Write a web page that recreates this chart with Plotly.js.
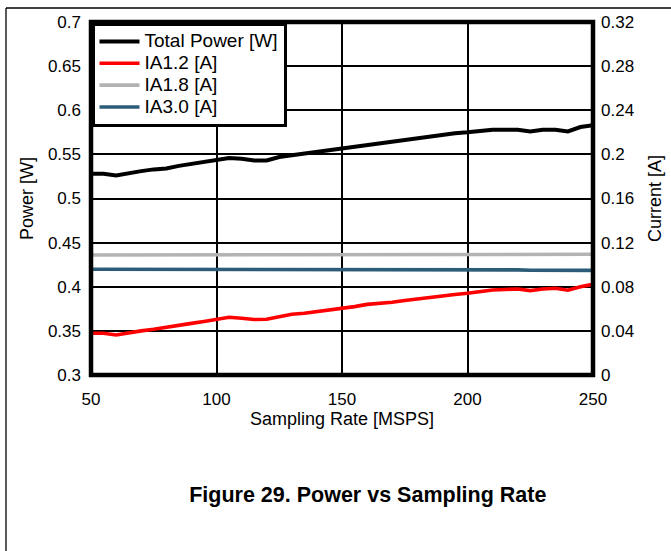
<!DOCTYPE html>
<html>
<head>
<meta charset="utf-8">
<script src="https://cdn.plot.ly/plotly-3.0.1.min.js"></script>
<style>html,body{margin:0;padding:0;background:#fff;}#chart{width:671px;height:551px;}</style>
</head>
<body>
<div id="chart"></div>
<script>
const samplingRate = [50,55,60,65,70,75,80,85,90,95,100,105,110,115,120,125,130,135,140,145,150,155,160,165,170,175,180,185,190,195,200,205,210,215,220,225,230,235,240,245,250];
const totalPower = [0.528,0.528,0.526,0.529,0.531,0.533,0.534,0.537,0.539,0.541,0.543,0.546,0.545,0.543,0.543,0.547,0.549,0.551,0.553,0.555,0.557,0.559,0.561,0.563,0.565,0.567,0.568,0.570,0.572,0.574,0.575,0.577,0.578,0.578,0.578,0.576,0.578,0.578,0.576,0.581,0.583];
const ia12 = [0.0378,0.0378,0.0363,0.0385,0.0400,0.0415,0.0430,0.0450,0.0468,0.0485,0.0500,0.0523,0.0515,0.0503,0.0505,0.0530,0.0550,0.0560,0.0573,0.0590,0.0604,0.0620,0.0640,0.0648,0.0660,0.0675,0.0690,0.0700,0.0715,0.0730,0.0741,0.0755,0.0770,0.0775,0.0780,0.0765,0.0780,0.0786,0.0768,0.0800,0.0822];
const ia18 = [0.1088,0.1088,0.1088,0.1088,0.1088,0.1088,0.1088,0.1088,0.1088,0.1088,0.1088,0.1089,0.1089,0.1089,0.1089,0.1090,0.1090,0.1090,0.1090,0.1090,0.1091,0.1091,0.1091,0.1092,0.1092,0.1092,0.1092,0.1093,0.1093,0.1093,0.1093,0.1094,0.1094,0.1094,0.1094,0.1094,0.1094,0.1094,0.1094,0.1094,0.1094];
const ia30 = [0.0958,0.0958,0.0958,0.0958,0.0958,0.0958,0.0958,0.0958,0.0958,0.0958,0.0958,0.0957,0.0956,0.0955,0.0955,0.0955,0.0956,0.0957,0.0957,0.0957,0.0957,0.0957,0.0957,0.0957,0.0957,0.0957,0.0957,0.0957,0.0957,0.0957,0.0957,0.0957,0.0957,0.0955,0.0953,0.0949,0.0948,0.0948,0.0948,0.0948,0.0948];
const seriesNames = ["Total Power [W]","IA1.2 [A]","IA1.8 [A]","IA3.0 [A]"];
const seriesColors = ["#000000","#ff0000","#b3b3b3","#2c5c78"];
const xTicks = [50,100,150,200,250];
const yLeftTicks = [0.3,0.35,0.4,0.45,0.5,0.55,0.6,0.65,0.7];
const yRightTicks = [0,0.04,0.08,0.12,0.16,0.2,0.24,0.28,0.32];

const FONT = "Liberation Sans, Arial, sans-serif";
const lw = 3.6;
const legName = s => '<span style="font-size:19px">' + s + '</span>';
const traces = [
  {x: samplingRate, y: totalPower, name: legName(seriesNames[0]), yaxis: "y", mode: "lines", line: {color: seriesColors[0], width: lw + 0.4}},
  {x: samplingRate, y: ia12, name: legName(seriesNames[1]), yaxis: "y2", mode: "lines", line: {color: seriesColors[1], width: lw}},
  {x: samplingRate, y: ia18, name: legName(seriesNames[2]), yaxis: "y2", mode: "lines", line: {color: seriesColors[2], width: lw}},
  {x: samplingRate, y: ia30, name: legName(seriesNames[3]), yaxis: "y2", mode: "lines", line: {color: seriesColors[3], width: lw}}
];

// plot area pixels: x 91..593, y 22..375
const L = 91, R = 593, T = 22, B = 375;
const px = v => (v - L) / (R - L);
const py = v => (B - v) / (B - T);

const layout = {
  width: 671, height: 551,
  margin: {l: L, r: 671 - R, t: T, b: 551 - B, pad: 0},
  paper_bgcolor: "#ffffff", plot_bgcolor: "#ffffff",
  font: {family: FONT, size: 17, color: "#000"},
  showlegend: true,
  legend: {x: 0, y: 1, xanchor: "left", yanchor: "top", bgcolor: "#ffffff", bordercolor: "#000", borderwidth: 3.5,
           font: {family: FONT, size: 14.5, color: "#000"}, tracegroupgap: 0, itemwidth: 40},
  title: {text: "<b>Figure 29. Power vs Sampling Rate</b>", font: {family: FONT, size: 21.5, color: "#000"},
          x: 370/671, xanchor: "center", xref: "paper", y: 1 - 494/551, yanchor: "middle", yref: "container"},
  xaxis: {range: [50, 250], tickvals: xTicks, ticks: "", showgrid: true, gridcolor: "#000", gridwidth: 2,
          zeroline: false, showline: false, ticklabelstandoff: 12, tickfont: {size: 17},
          title: {text: "Sampling Rate [MSPS]", font: {size: 18}, standoff: 0}},
  yaxis: {range: [0.3, 0.7], tickvals: yLeftTicks, ticks: "", showgrid: true, gridcolor: "#000", gridwidth: 2,
          zeroline: false, showline: false, ticklabelstandoff: 9, tickfont: {size: 17},
          title: {text: "Power [W]", font: {size: 18}, standoff: 9}},
  yaxis2: {range: [0, 0.32], tickvals: yRightTicks, overlaying: "y", side: "right", ticks: "", showgrid: false,
           zeroline: false, showline: false, ticklabelstandoff: 7, tickfont: {size: 17},
           title: {text: "Current [A]", font: {size: 18}, standoff: 15}},
  shapes: [
    {type: "rect", xref: "paper", yref: "paper", x0: 0, x1: 1, y0: 0, y1: 1, line: {color: "#000", width: 4.5}, layer: "above"},
    {type: "line", xref: "paper", yref: "paper", x0: px(6), x1: px(6), y0: py(8), y1: py(560), line: {color: "#000", width: 1.3}},
    {type: "line", xref: "paper", yref: "paper", x0: px(6), x1: px(680), y0: py(8), y1: py(8), line: {color: "#000", width: 1.3}}
  ]
};

Plotly.newPlot("chart", traces, layout, {displayModeBar: false, staticPlot: true});
</script>
</body>
</html>
